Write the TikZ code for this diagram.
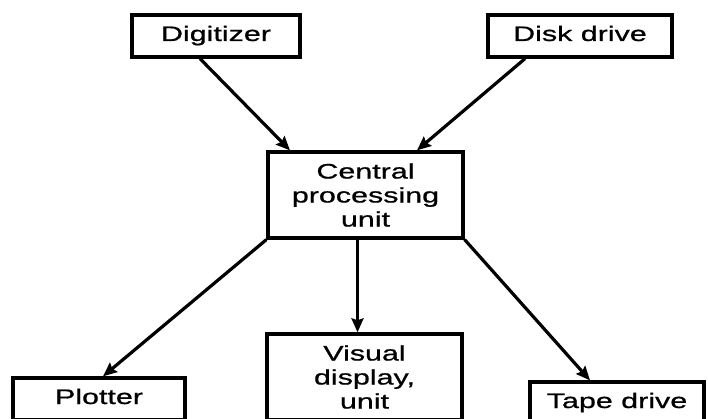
\documentclass[tikz,border=0pt]{standalone}
\usepackage{fontspec}
\newfontfamily\labfont[FakeStretch=1.45,FakeBold=0.8]{Liberation Sans}
\usetikzlibrary{arrows.meta,calc}
\tikzset{
  boxone/.style={draw=black, line width=3.3pt, rectangle, inner sep=0pt,
    font=\labfont\fontsize{21pt}{24pt}\selectfont, text height=15pt, text depth=5pt},
  boxthree/.style={draw=black, line width=3.3pt, rectangle, inner sep=0pt,
    font=\labfont\fontsize{21pt}{24pt}\selectfont, align=center},
  conn/.style={line width=3.2pt, -{Stealth[length=14pt,width=12pt,inset=2pt]}}
}
\begin{document}
\begin{tikzpicture}[x=1pt,y=-1pt]
\useasboundingbox (0,0) rectangle (708,419);
\fill[white] (0,0) rectangle (708,419);
\begin{scope}
\clip (0,0) rectangle (708,419);
\node[boxone, minimum width=168pt, minimum height=42pt] (dig) at (216,36) {Digitizer};
\node[boxone, minimum width=184pt, minimum height=42pt] (disk) at (580,36) {Disk drive};
\node[boxthree, minimum width=195pt, minimum height=86pt] (cpu) at (365.5,195) {Central\\processing\\unit};
\node[boxone, minimum width=172pt, minimum height=42pt] (plot) at (99,399) {Plotter};
\node[boxthree, minimum width=195pt, minimum height=86pt] (vdu) at (364.5,377) {Visual\\display,\\unit};
\node[boxone, minimum width=174pt, minimum height=42pt] (tape) at (617,403) {Tape drive};

\draw[conn] ([xshift=-16pt]dig.south) -- ([xshift=-75.5pt]cpu.north);
\draw[conn] ([xshift=-55pt]disk.south) -- ([xshift=51.5pt]cpu.north);
\draw[conn] (cpu.south west) -- ([xshift=4pt]plot.north);
\draw[conn] ([xshift=-8pt]cpu.south) -- ([xshift=-8pt]cpu.south |- vdu.north);
\draw[conn] (cpu.south east) -- ([xshift=-27pt]tape.north);
\end{scope}
\end{tikzpicture}
\end{document}
